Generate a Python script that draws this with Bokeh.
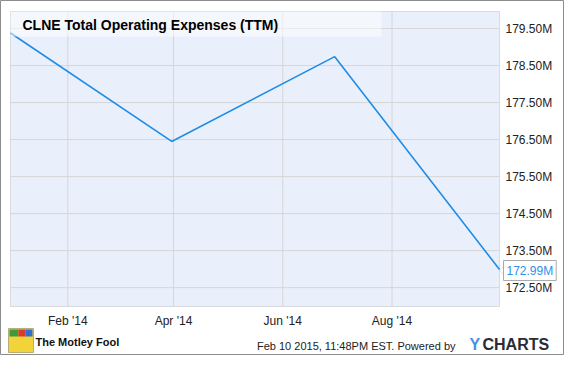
from datetime import datetime
from bokeh.plotting import figure
from bokeh.models import Range1d, FixedTicker, Label, BoxAnnotation, PolyAnnotation
from bokeh.embed import file_html
from bokeh.resources import INLINE

# ---- data ----
dates = ["2013-12-31", "2014-03-31", "2014-06-30", "2014-09-30"]
values_m = [179.38, 176.45, 178.74, 172.99]
x_tick_dates = ["2014-02-01", "2014-04-01", "2014-06-01", "2014-08-01"]
x_tick_labels = ["Feb '14", "Apr '14", "Jun '14", "Aug '14"]
y_ticks = [172.5, 173.5, 174.5, 175.5, 176.5, 177.5, 178.5, 179.5]
y_tick_labels = ["172.50M", "173.50M", "174.50M", "175.50M",
                 "176.50M", "177.50M", "178.50M", "179.50M"]
y_lo, y_hi = 171.99, 179.96
last_label = "172.99M"
title_text = "CLNE Total Operating Expenses (TTM)"
footer_text = "Feb 10 2015, 11:48PM EST. Powered by"
brand_left = "The Motley Fool"
brand_right_a = "Y"
brand_right_b = "CHARTS"


def ms(s):
    return (datetime.strptime(s, "%Y-%m-%d") - datetime(1970, 1, 1)).total_seconds() * 1000.0


xs = [ms(d) for d in dates]
xt = [ms(d) for d in x_tick_dates]

# ---- layout (pixels) ----
W, H = 564, 355
PL, PR, PT, PB = 10, 499, 11, 306      # plot area
FONT = "Liberation Sans"

xspan = xs[-1] - xs[0]
x_per_px = xspan / (PR - PL)
y_per_px = (y_hi - y_lo) / (PB - PT)
x_range = Range1d(xs[0] - PL * x_per_px, xs[-1] + (W - PR) * x_per_px)
y_range = Range1d(y_lo - (H - PB) * y_per_px, y_hi + PT * y_per_px)


def sy(y):  # top-down pixel -> screen units (bottom-up)
    return H - y


p = figure(width=W, height=H, output_backend="svg", toolbar_location=None,
           x_axis_type="datetime", y_axis_location="right",
           x_range=x_range, y_range=y_range)
p.min_border = 0
p.min_border_left = 0
p.min_border_right = 0
p.min_border_top = 0
p.min_border_bottom = 0
p.background_fill_color = "white"
p.border_fill_color = "white"
p.outline_line_color = "#8C8C8C"
p.outline_line_width = 1
p.grid.visible = False

# axes (labels placed inside the canvas)
p.xaxis.ticker = FixedTicker(ticks=xt, minor_ticks=[])
p.xaxis.major_label_overrides = {t: l for t, l in zip(xt, x_tick_labels)}
p.yaxis.ticker = FixedTicker(ticks=y_ticks, minor_ticks=[])
p.yaxis.major_label_overrides = {t: l for t, l in zip(y_ticks, y_tick_labels)}
for ax in (p.xaxis[0], p.yaxis[0]):
    ax.axis_line_color = None
    ax.major_tick_line_color = None
    ax.minor_tick_line_color = None
    ax.major_tick_in = 0
    ax.major_tick_out = 0
    ax.minor_tick_in = 0
    ax.minor_tick_out = 0
    ax.major_label_text_font = FONT
    ax.major_label_text_font_size = "12px"
    ax.major_label_text_color = "#222222"
p.yaxis.major_label_standoff = 505 - W
p.xaxis.major_label_standoff = 313 - H

# plot area background and border
p.add_layout(BoxAnnotation(left=xs[0], right=xs[-1], bottom=y_lo, top=y_hi,
                           fill_color="#E9F0FB", fill_alpha=1.0,
                           line_color="#9A9A9A", line_width=1, level="underlay"))
# grid lines
p.segment(x0=xt, x1=xt, y0=[y_lo] * len(xt), y1=[y_hi] * len(xt),
          line_color="#D6D6D6", line_width=1)
p.segment(x0=[xs[0]] * len(y_ticks), x1=[xs[-1]] * len(y_ticks), y0=y_ticks, y1=y_ticks,
          line_color="#D6D6D6", line_width=1)

# series
p.line(xs, values_m, line_color="#1F8CE6", line_width=1.6)

# title box + title
p.add_layout(BoxAnnotation(left=PL, right=381, top=sy(PT), bottom=sy(36),
                           left_units="screen", right_units="screen",
                           top_units="screen", bottom_units="screen",
                           fill_color="white", fill_alpha=0.5, line_color=None))
p.add_layout(Label(x=22, y=sy(24), x_units="screen", y_units="screen", text=title_text,
                   text_font=FONT, text_font_style="bold", text_font_size="14px",
                   text_color="#000000", text_baseline="middle"))

# last value tag
p.add_layout(PolyAnnotation(xs=[499, 504, 504], ys=[sy(270), sy(265), sy(275)],
                            xs_units="screen", ys_units="screen",
                            fill_color="white", fill_alpha=1.0,
                            line_color="#AAAAAA", line_width=1))
p.add_layout(Label(x=503, y=sy(270), x_units="screen", y_units="screen", text=last_label,
                   text_font=FONT, text_font_size="12px", text_color="#2E8FE8",
                   text_baseline="middle", background_fill_color="white",
                   border_line_color="#AAAAAA", padding=3))

# footer
FY = 344
p.add_layout(Label(x=455, y=sy(FY + 1), x_units="screen", y_units="screen", text=footer_text,
                   text_font=FONT, text_font_size="11px", text_color="#222222",
                   text_align="right", text_baseline="middle"))
p.add_layout(Label(x=469, y=sy(FY), x_units="screen", y_units="screen", text=brand_right_a,
                   text_font=FONT, text_font_style="bold", text_font_size="16px",
                   text_color="#4C8FE0", text_baseline="middle"))
p.add_layout(Label(x=482, y=sy(FY), x_units="screen", y_units="screen", text=brand_right_b,
                   text_font=FONT, text_font_style="bold", text_font_size="16px",
                   text_color="#2B2B33", text_baseline="middle"))
p.add_layout(Label(x=35, y=sy(FY - 3), x_units="screen", y_units="screen", text=brand_left,
                   text_font=FONT, text_font_style="bold", text_font_size="11px",
                   text_color="#111111", text_baseline="middle"))
# jester icon (simplified)
IT, IB = 328, 352
p.add_layout(BoxAnnotation(left=8, right=33, top=sy(IT), bottom=sy(IB),
                           left_units="screen", right_units="screen",
                           top_units="screen", bottom_units="screen",
                           fill_color="#F3D33A", fill_alpha=1.0,
                           line_color="#222222", line_width=1))
for l, r, c in [(9, 18, "#3C9A3C"), (18, 25, "#D83A2E"), (25, 32, "#2F6FD0")]:
    p.add_layout(BoxAnnotation(left=l, right=r, top=sy(IT + 1), bottom=sy(IT + 8),
                               left_units="screen", right_units="screen",
                               top_units="screen", bottom_units="screen",
                               fill_color=c, fill_alpha=1.0, line_color=None))

open("out.html", "w").write(file_html(p, INLINE))
